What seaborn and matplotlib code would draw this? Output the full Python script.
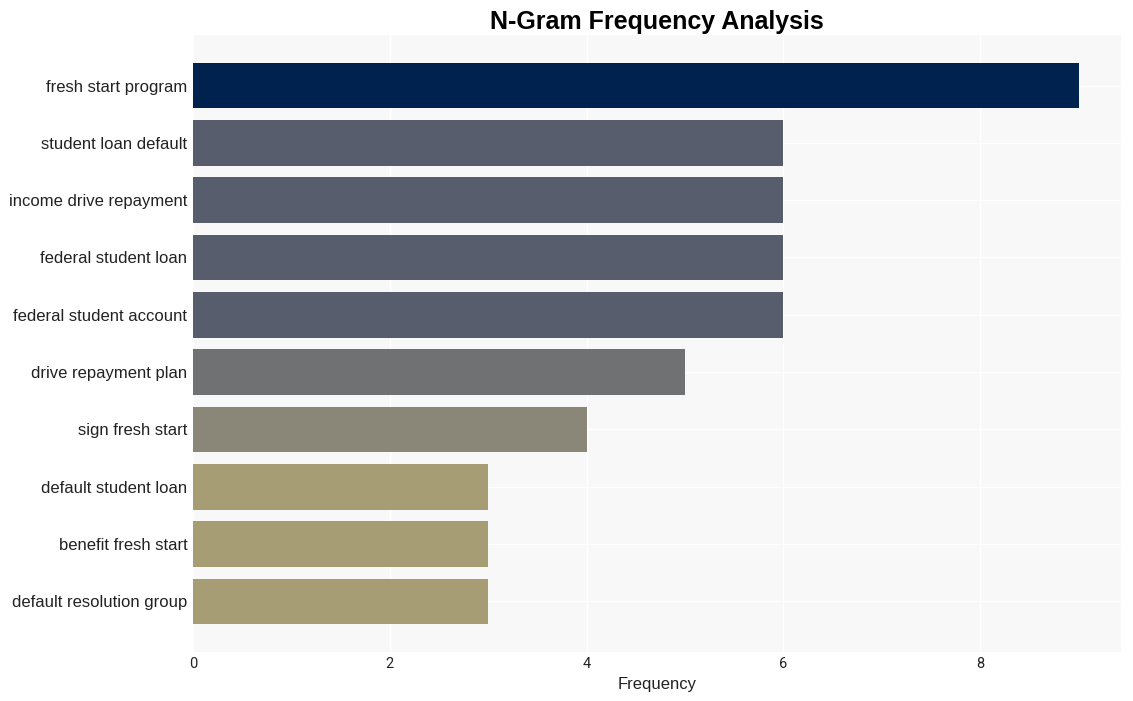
import matplotlib
matplotlib.use("Agg")
import matplotlib.pyplot as plt
import seaborn as sns
import pandas as pd

ngrams = ["fresh start program", "student loan default", "income drive repayment",
          "federal student loan", "federal student account", "drive repayment plan",
          "sign fresh start", "default student loan", "benefit fresh start",
          "default resolution group"]
counts = [9, 6, 6, 6, 6, 5, 4, 3, 3, 3]
value_colors = {9: "#00224e", 6: "#575d6d", 5: "#707173", 4: "#8a8678", 3: "#a69d75"}

df = pd.DataFrame({"ngram": ngrams, "count": counts})
palette = {n: value_colors[c] for n, c in zip(ngrams, counts)}

sns.set_theme(style="whitegrid")
plt.rcParams["font.family"] = ["Liberation Sans", "DejaVu Sans"]

fig = plt.figure(figsize=(11.33, 7.01), dpi=100)
ax = fig.add_axes([0.1703, 0.070, 0.8191, 0.880])
ax.set_facecolor("#f8f8f8")
sns.barplot(data=df, x="count", y="ngram", hue="ngram", palette=palette,
            dodge=False, legend=False, width=0.8, ax=ax, saturation=1,
            linewidth=0, edgecolor="none")
ax.grid(True, color="white", linewidth=1)
ax.set_axisbelow(True)
for s in ax.spines.values():
    s.set_visible(False)
ax.set_xlim(0, 9.43)
ax.set_ylim(9.88, -0.88)
ax.set_xticks([0, 2, 4, 6, 8])
ax.tick_params(axis="x", labelsize=10.5, pad=4, length=0, labelcolor="#222222")
ax.tick_params(axis="y", labelsize=12, pad=4, length=0, labelcolor="#222222")
for lbl in ax.get_xticklabels():
    lbl.set_fontfamily(["Roboto", "DejaVu Sans"])
    lbl.set_fontstretch("condensed")
ax.set_xlabel("Frequency", fontsize=12, color="#222222")
ax.set_ylabel("")
ax.set_title("N-Gram Frequency Analysis", fontsize=18, fontweight="bold", pad=4,
             color="black")
fig.savefig("out.png", dpi=100)
